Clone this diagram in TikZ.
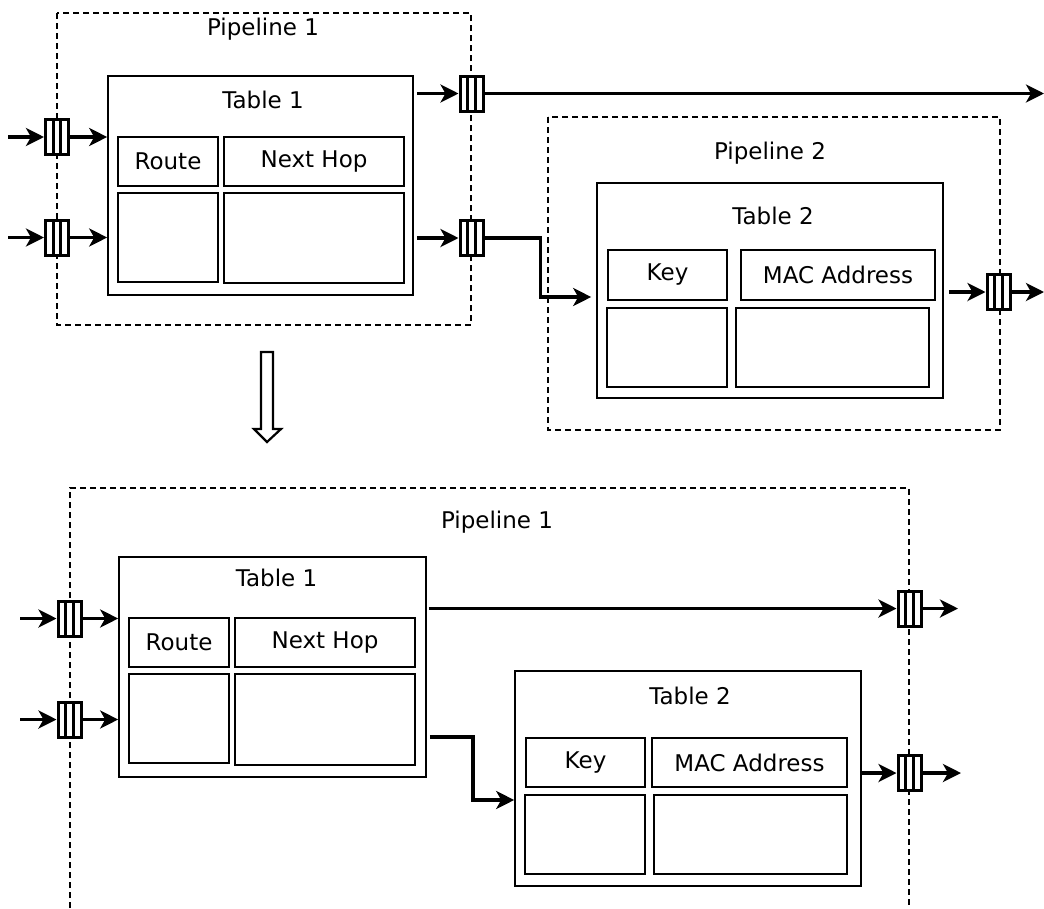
\documentclass[tikz,border=0pt]{standalone}
\usepackage{fontspec}
\setmainfont{DejaVu Sans}
\usetikzlibrary{arrows.meta,calc}

\begin{document}
\begin{tikzpicture}[x=1pt,y=-1pt,
        font=\fontsize{23pt}{27pt}\selectfont,
        box/.style={draw,line width=1.6pt,inner sep=0pt},
        pipe/.style={line width=1.9pt,dash pattern=on 6pt off 4pt},
        flow/.style={line width=3.6pt,-{Stealth[length=18pt,width=18pt,inset=5pt]}},
        queue/.style={draw,fill=white,line width=3pt,minimum width=23pt,minimum height=35pt,inner sep=0pt,
            path picture={\foreach \f in {0.333,0.667}
                \draw[line width=3pt] ($(path picture bounding box.north west)!\f!(path picture bounding box.north east)$)
                    -- ($(path picture bounding box.south west)!\f!(path picture bounding box.south east)$);}}]
    \useasboundingbox (0,0) rectangle (1044,908);

    \draw[pipe] (57,13) rectangle (471,325);
    \draw[pipe] (548,117) rectangle (1000,430);
    \draw[pipe] (70,908) -- (70,488) -- (909,488) -- (909,908);

    \node (pipe1) at (263,29) {Pipeline 1};
    \node (pipe2) at (770,153) {Pipeline 2};
    \node (pipe3) at (497,522) {Pipeline 1};

    \node[box,minimum width=305pt,minimum height=219pt] (tab1) at (260.5,185.5) {};
    \node (name1) at (263,100) {Table 1};
    \node[box,minimum width=100pt,minimum height=49pt] (route1) at (168,161.5) {Route};
    \node[box,minimum width=180pt,minimum height=49pt] (hop1) at (314,161.5) {Next Hop};
    \node[box,minimum width=100pt,minimum height=89pt] (cellA1) at (168,237.5) {};
    \node[box,minimum width=180pt,minimum height=90pt] (cellB1) at (314,238) {};

    \node[box,minimum width=346pt,minimum height=215pt] (tab2) at (770,290.5) {};
    \node (name2) at (773,216) {Table 2};
    \node[box,minimum width=119pt,minimum height=50pt] (key2) at (667.5,275) {Key};
    \node[box,minimum width=194pt,minimum height=50pt] (mac2) at (838,275) {MAC Address};
    \node[box,minimum width=120pt,minimum height=79pt] (cellA2) at (667,347.5) {};
    \node[box,minimum width=193pt,minimum height=79pt] (cellB2) at (832.5,347.5) {};

    \node[box,minimum width=307pt,minimum height=220pt] (tab3) at (272.5,667) {};
    \node (name3) at (276.5,578) {Table 1};
    \node[box,minimum width=100pt,minimum height=49pt] (route3) at (179,642.5) {Route};
    \node[box,minimum width=180pt,minimum height=49pt] (hop3) at (325,642.5) {Next Hop};
    \node[box,minimum width=100pt,minimum height=89pt] (cellA3) at (179,718.5) {};
    \node[box,minimum width=180pt,minimum height=91pt] (cellB3) at (325,719.5) {};

    \node[box,minimum width=346pt,minimum height=215pt] (tab4) at (688,778.5) {};
    \node (name4) at (690,696) {Table 2};
    \node[box,minimum width=119pt,minimum height=49pt] (key4) at (585.5,762.5) {Key};
    \node[box,minimum width=195pt,minimum height=49pt] (mac4) at (749.5,762.5) {MAC Address};
    \node[box,minimum width=120pt,minimum height=79pt] (cellA4) at (585,834.5) {};
    \node[box,minimum width=193pt,minimum height=79pt] (cellB4) at (750.5,834.5) {};

    \node[queue] (q1) at (57,137) {};
    \node[queue] (q2) at (57,237.5) {};
    \node[queue] (q3) at (471.5,93.5) {};
    \node[queue] (q4) at (471.5,238) {};
    \node[queue] (q5) at (998.5,292) {};
    \node[queue] (q6) at (69.5,618.5) {};
    \node[queue] (q7) at (69.5,719.5) {};
    \node[queue] (q8) at (909.5,608.5) {};
    \node[queue] (q9) at (909.5,773) {};

    \coordinate (in1) at (8,137);
    \coordinate (in2) at (8,237.5);
    \coordinate (in3) at (20,618.5);
    \coordinate (in4) at (20,719.5);
    \coordinate (out1) at (1044,93.5);
    \coordinate (out2) at (1044,292);
    \coordinate (out3) at (958,608.5);
    \coordinate (out4) at (961,773);

    \draw[flow] (in1) -- (q1.west);
    \draw[flow] (in2) -- (q2.west);
    \draw[flow] (q1.east) -- (q1.east -| tab1.west);
    \draw[flow] (q2.east) -- (q2.east -| tab1.west);
    \draw[flow,shorten <=3pt] (q3.west -| tab1.east) -- (q3.west);
    \draw[flow,shorten <=3pt] (q4.west -| tab1.east) -- (q4.west);
    \draw[flow] (q3.east) -- (out1);
    \draw[flow,shorten >=5pt] (q4.east) -- ++(56,0) |- ([yshift=-6.5pt]tab2.west);
    \draw[flow,shorten <=5pt] (q5.west -| tab2.east) -- (q5.west);
    \draw[flow] (q5.east) -- (out2);

    \draw[flow] (in3) -- (q6.west);
    \draw[flow] (in4) -- (q7.west);
    \draw[flow] (q6.east) -- (q6.east -| tab3.west);
    \draw[flow] (q7.east) -- (q7.east -| tab3.west);
    \draw[flow,shorten <=2pt] (q8.west -| tab3.east) -- (q8.west);
    \draw[flow] (q8.east) -- (out3);
    \draw[flow] ([xshift=3pt,yshift=-70pt]tab3.east) -- ++(43,0) |- ([yshift=-21.5pt]tab4.west);
    \draw[flow] (q9.west -| tab4.east) -- (q9.west);
    \draw[flow] (q9.east) -- (out4);

    \draw[line width=2.2pt,fill=white] (261,352) -- (273,352) -- (273,429) -- (281,429) -- (267,442)
        -- (254,429) -- (261,429) -- cycle;
\end{tikzpicture}
\end{document}
